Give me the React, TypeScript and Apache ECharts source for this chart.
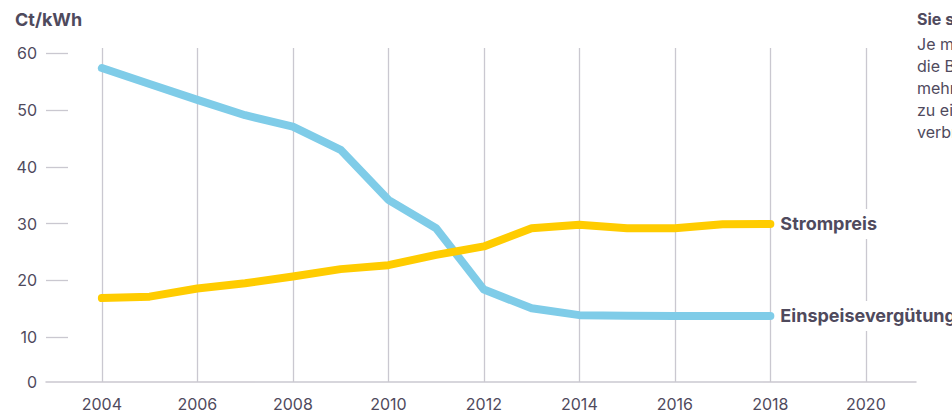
import React, { useEffect, useRef } from "react";
import * as echarts from "echarts";

const years = [2004, 2005, 2006, 2007, 2008, 2009, 2010, 2011, 2012, 2013, 2014, 2015, 2016, 2017, 2018];
const einspeiseverguetung = [57.4, 54.6, 51.8, 49.1, 47.1, 43.0, 34.2, 29.2, 18.4, 15.1, 13.9, 13.8, 13.75, 13.75, 13.75];
const strompreis = [16.9, 17.15, 18.6, 19.5, 20.7, 22.0, 22.7, 24.5, 26.0, 29.2, 29.8, 29.2, 29.2, 29.9, 29.95];
const xTickYears = [2004, 2006, 2008, 2010, 2012, 2014, 2016, 2018, 2020];
const yTickValues = [10, 20, 30, 40, 50, 60];
const yAxisBottomLabel = "0";
const unitLabel = "Ct/kWh";
const sideTitle = "Sie sparen doppelt";
const sideLines = [
  "Je mehr Solarstrom Sie selbst nutzen,",
  "die Batterie speichern und",
  "mehr Energie vom Dach holen, desto",
  "zu eigenen Kosten selbst",
  "verbrauchen Sie Ihren Strom.",
];

const FONT = "Inter, 'Open Sans', sans-serif";
const TEXT = "#4f4a5d";
const GRID = "#cac8d0";

export default function App() {
  const ref = useRef<HTMLDivElement>(null);
  useEffect(() => {
    if (!ref.current) return;
    const chart = echarts.init(ref.current, null, { renderer: "svg" });
    const yMin = 2.13;
    const endLabel = {
      show: true,
      formatter: "{a}",
      distance: 6,
      color: TEXT,
      fontSize: 18,
      fontWeight: "bold",
      fontFamily: FONT,
      backgroundColor: "#ffffff",
      padding: [6, 4, 6, 4],
    };
    const option: any = {
      animation: false,
      textStyle: { fontFamily: FONT },
      grid: { left: 46, right: 36, top: 48, bottom: 32, containLabel: false },
      xAxis: {
        type: "value",
        min: 2002.83,
        max: 2021.05,
        axisLine: { show: true, lineStyle: { color: GRID, width: 1.5 } },
        axisTick: {
          show: true,
          inside: true,
          length: 334,
          customValues: xTickYears,
          lineStyle: { color: GRID, width: 1.3 },
        },
        splitLine: { show: false },
        axisLabel: {
          customValues: xTickYears,
          color: TEXT,
          fontSize: 16,
          fontFamily: FONT,
          margin: 14,
          formatter: (v: number) => String(Math.round(v)),
        },
      },
      yAxis: {
        type: "value",
        min: yMin,
        max: 60.93,
        axisLine: { show: false },
        splitLine: { show: false },
        axisTick: {
          show: true,
          inside: true,
          length: 22,
          customValues: yTickValues,
          lineStyle: { color: GRID, width: 1.3 },
        },
        axisLabel: {
          customValues: [yMin, ...yTickValues],
          color: TEXT,
          fontSize: 16,
          fontFamily: FONT,
          margin: 9,
          formatter: (v: number) => (v < 5 ? yAxisBottomLabel : String(Math.round(v))),
        },
      },
      series: [
        {
          name: "Einspeisevergütung",
          type: "line",
          data: years.map((y, i) => [y, einspeiseverguetung[i]]),
          showSymbol: false,
          symbol: "none",
          lineStyle: { color: "#7fcce8", width: 8, cap: "round", join: "round" },
          itemStyle: { color: "#7fcce8" },
          endLabel,
        },
        {
          name: "Strompreis",
          type: "line",
          data: years.map((y, i) => [y, strompreis[i]]),
          showSymbol: false,
          symbol: "none",
          lineStyle: { color: "#ffcc00", width: 8, cap: "round", join: "round" },
          itemStyle: { color: "#ffcc00" },
          endLabel,
        },
      ],
      graphic: [
        {
          type: "text",
          left: 15,
          top: 10,
          style: { text: unitLabel, fill: TEXT, font: `bold 18px ${FONT}` },
        },
        {
          type: "text",
          left: 917,
          top: 11,
          style: { text: sideTitle, fill: TEXT, font: `bold 16px ${FONT}` },
        },
        {
          type: "text",
          left: 917,
          top: 33,
          style: {
            text: sideLines.join("\n"),
            fill: TEXT,
            font: `16px ${FONT}`,
            lineHeight: 22,
          },
        },
      ],
    };
    chart.setOption(option);
    return () => chart.dispose();
  }, []);
  return <div ref={ref} style={{ width: 952, height: 414, position: "absolute", left: 0, top: 0 }} />;
}
